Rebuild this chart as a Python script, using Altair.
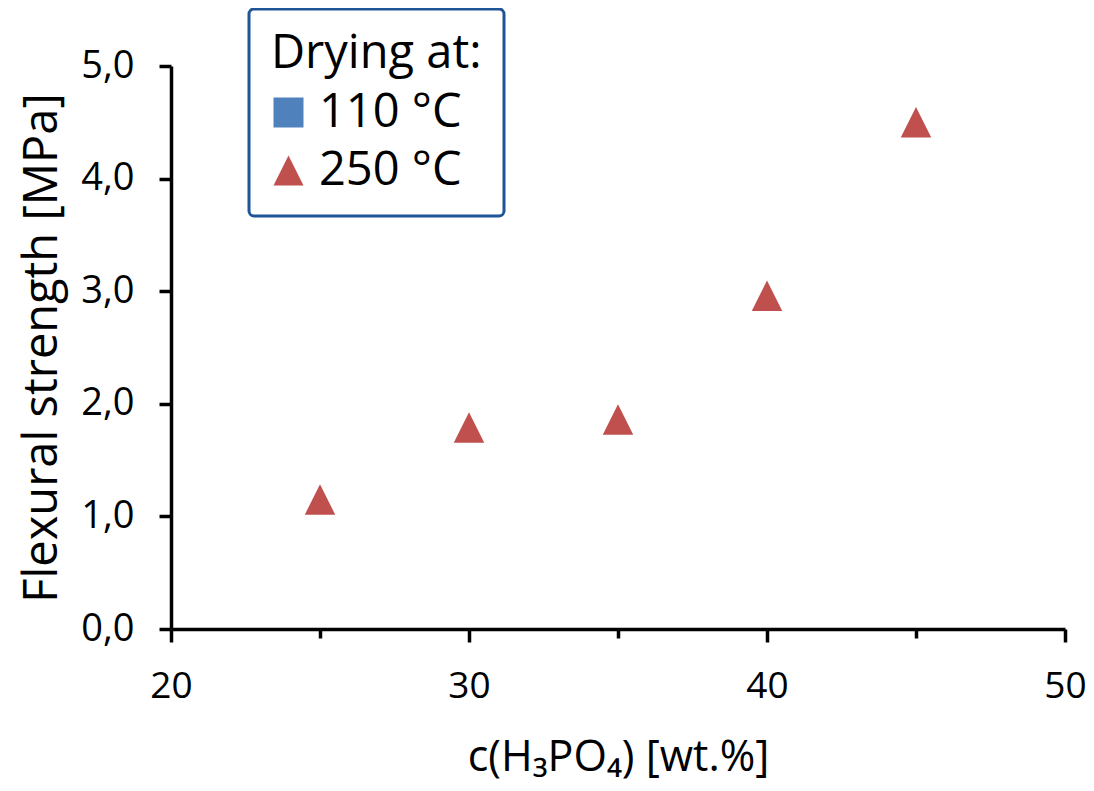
import altair as alt
import pandas as pd

# --- data ---
concentration = [25, 30, 35, 40, 45]
strength = [1.15, 1.79, 1.86, 2.96, 4.50]
series = ["250 °C", "250 °C", "250 °C", "250 °C", "250 °C"]

categories = ["110 °C", "250 °C"]
colors = ["#4f81bd", "#c0504d"]
triangle = "M0,-1L1,1L-1,1Z"
shapes = ["square", triangle]

x_ticks = [20, 25, 30, 35, 40, 45, 50]
y_ticks = [0, 1, 2, 3, 4, 5]

df = pd.DataFrame({"c": concentration, "s": strength, "series": series})

FONT = "Open Sans"
LEGEND_TITLE = "Drying at:\u00a0"

chart = (
    alt.Chart(df)
    .mark_point(filled=True, size=930, opacity=1)
    .encode(
        x=alt.X(
            "c:Q",
            scale=alt.Scale(domain=[20, 50], nice=False, zero=False),
            axis=alt.Axis(
                title="c(H₃PO₄) [wt.%]",
                values=x_ticks,
                labelExpr="datum.value % 10 === 0 ? datum.value : ''",
                labelFlush=False,
                labelFontSize=37,
                tickSize={"condition": {"test": "datum.value % 10 === 0", "value": 13}, "value": 9},
                labelPadding=26,
                titleY=141,
                titleBaseline="alphabetic",
                titleFontSize=43,
            ),
        ),
        y=alt.Y(
            "s:Q",
            scale=alt.Scale(domain=[0, 5], nice=False),
            axis=alt.Axis(
                title="Flexural strength [MPa]",
                values=y_ticks,
                labelExpr="replace(format(datum.value, '.1f'), '.', ',')",
                labelFlush=False,
                labelFontSize=38,
                tickSize=12,
                labelPadding=25,
                titleX=-115,
                titleBaseline="alphabetic",
                titleFontSize=47,
            ),
        ),
        color=alt.Color(
            "series:N",
            scale=alt.Scale(domain=categories, range=colors),
            legend=alt.Legend(
                title=LEGEND_TITLE,
                orient="none",
                legendX=78,
                legendY=-57,
                titleFontSize=47,
                titleFont=FONT,
                titleFontWeight="normal",
                titleColor="black",
                titlePadding=11,
                titleLimit=500,
                labelFontSize=47,
                labelFont=FONT,
                labelColor="black",
                labelOffset=7,
                labelLimit=500,
                symbolSize=900,
                symbolOffset=-6,
                symbolStrokeWidth=0,
                symbolOpacity=1,
                rowPadding=10,
            ),
        ),
        shape=alt.Shape(
            "series:N",
            scale=alt.Scale(domain=categories, range=shapes),
            legend=alt.Legend(title=LEGEND_TITLE),
        ),
    )
    .properties(
        width=894,
        height=563,
        autosize=alt.AutoSizeParams(type="none"),
        padding={"left": 163, "top": 58, "right": 21, "bottom": 154},
    )
    .configure_view(stroke=None)
    .configure_legend(
        strokeColor="#1f5597",
        strokeWidth=3,
        cornerRadius=5,
        fillColor="white",
        padding=22,
    )
    .configure_axis(
        grid=False,
        domainColor="black",
        domainWidth=3.5,
        tickColor="black",
        tickWidth=3.5,
        labelFont=FONT,
        labelColor="black",
        titleFont=FONT,
        titleFontWeight="normal",
        titleColor="black",
    )
)

chart.save("out.html", embed_options={"renderer": "svg", "actions": False})
